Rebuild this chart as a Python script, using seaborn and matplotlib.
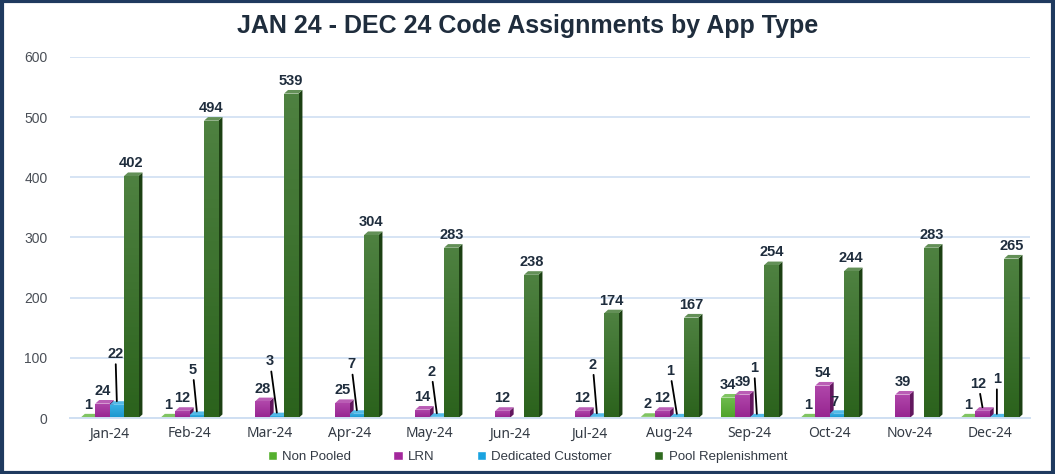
import seaborn as sns
import matplotlib.pyplot as plt
import matplotlib.colors as mcolors
from matplotlib.patches import Polygon, Rectangle
import pandas as pd
import numpy as np

# data (None = no bar / no label)
months = ["Jan-24", "Feb-24", "Mar-24", "Apr-24", "May-24", "Jun-24",
          "Jul-24", "Aug-24", "Sep-24", "Oct-24", "Nov-24", "Dec-24"]
non_pooled = [1, 1, None, None, None, None, None, 2, 34, 1, None, 1]
lrn = [24, 12, 28, 25, 14, 12, 12, 12, 39, 54, 39, 12]
dedicated = [22, 5, 3, 7, 2, None, 2, 1, 1, 7, None, 1]
pool_repl = [402, 494, 539, 304, 283, 238, 174, 167, 254, 244, 283, 265]

series = ["Non Pooled", "LRN", "Dedicated Customer", "Pool Replenishment"]
values = [non_pooled, lrn, dedicated, pool_repl]
colors = ["#55b02e", "#a3279c", "#1aa3e0", "#2f6b1f"]

# label offsets in points (dx, dy) and whether a leader line is drawn
label_offsets = {
    ("Dedicated Customer", 0): (-1, 29, True),
    ("Dedicated Customer", 1): (-3, 25, True),
    ("Dedicated Customer", 2): (-5, 32, True),
    ("Dedicated Customer", 3): (-4, 28, True),
    ("Dedicated Customer", 4): (-4, 25, True),
    ("Dedicated Customer", 6): (-3, 30, True),
    ("Dedicated Customer", 7): (-5, 26, True),
    ("Dedicated Customer", 8): (-2, 28, True),
    ("Dedicated Customer", 9): (-2, 1, False),
    ("Dedicated Customer", 11): (0, 20, True),
    ("LRN", 11): (-3, 12, True),
}

df = pd.DataFrame({"Month": months})
for name, vals in zip(series, values):
    df[name] = vals
long = df.melt(id_vars="Month", var_name="Series", value_name="Count")
long["Plot"] = long["Count"].fillna(0)

sns.set_style("white")
plt.rcParams["font.family"] = ["Liberation Sans", "DejaVu Sans"]

fig = plt.figure(figsize=(10.55, 4.74), dpi=100)
ax = fig.add_axes([0.066, 0.118, 0.91, 0.762])

sns.barplot(data=long, x="Month", y="Plot", hue="Series", order=months,
            hue_order=series, palette=colors, width=0.72, saturation=1,
            edgecolor="none", legend=False, ax=ax)

ax.set_ylim(0, 600)
ax.set_xlim(-0.45, 11.35)


def shade(c, f):
    r, g, b = mcolors.to_rgb(c)
    return (r * f, g * f, b * f)


def lighten(c, f):
    r, g, b = mcolors.to_rgb(c)
    return (r + (1 - r) * f, g + (1 - g) * f, b + (1 - b) * f)


# pseudo-3D faces and gradient on each bar
dx, dy = 0.05, 6
for cont, col, name, vals in zip(ax.containers, colors, series, values):
    for j, p in enumerate(cont.patches):
        if vals[j] is None:
            p.set_visible(False)
            continue
        x0, w, h = p.get_x(), p.get_width(), p.get_height()
        side = Polygon([(x0 + w, 0), (x0 + w + dx, dy), (x0 + w + dx, h + dy), (x0 + w, h)],
                       closed=True, facecolor=shade(col, 0.6), edgecolor="none", zorder=2)
        top = Polygon([(x0, h), (x0 + dx, h + dy), (x0 + w + dx, h + dy), (x0 + w, h)],
                      closed=True, facecolor=lighten(col, 0.25), edgecolor="none", zorder=2)
        ax.add_patch(side)
        ax.add_patch(top)
        grad = np.linspace(0, 1, 64).reshape(-1, 1)
        cmap = mcolors.LinearSegmentedColormap.from_list("g", [shade(col, 0.92), lighten(col, 0.15)])
        im = ax.imshow(grad, cmap=cmap, aspect="auto", origin="lower",
                       extent=(x0, x0 + w, 0, h), zorder=2)
        im.set_clip_path(p)

# value labels
for cont, name, vals in zip(ax.containers, series, values):
    for j, p in enumerate(cont.patches):
        v = vals[j]
        if v is None:
            continue
        xc = p.get_x() + p.get_width() / 2
        h = p.get_height() + dy
        ox, oy, line = label_offsets.get((name, j), (0, 1.5, False))
        ax.annotate(str(v), xy=(xc, h), xytext=(ox, oy), textcoords="offset points",
                    ha="center", va="bottom", fontsize=10.5, fontweight="bold",
                    color="#1f2d3d", zorder=5,
                    arrowprops=dict(arrowstyle="-", color="black", lw=1.3,
                                    shrinkA=0, shrinkB=0) if line else None)

# axes styling
ax.set_xlabel("")
ax.set_ylabel("")
ax.set_yticks(range(0, 601, 100))
ax.yaxis.grid(True, color="#cfdff2", linewidth=1.2)
ax.set_axisbelow(True)
for s in ["top", "right", "left"]:
    ax.spines[s].set_visible(False)
ax.spines["bottom"].set_color("#cfdff2")
ax.spines["bottom"].set_linewidth(1.4)
ax.tick_params(axis="y", length=0, labelsize=10, labelcolor="#4a4f57", pad=16)
ax.tick_params(axis="x", which="major", length=0, labelsize=10, labelcolor="#333a44", pad=6)
ax.set_xticks(np.arange(-0.5, 12, 1), minor=True)
ax.tick_params(axis="x", which="minor", length=5, color="#cfdff2", width=1.2)
for lbl in ax.get_xticklabels():
    lbl.set_family(["Noto Sans", "DejaVu Sans"])

# title
fig.text(0.5, 0.945, "JAN 24 - DEC 24 Code Assignments by App Type", ha="center",
         va="center", fontsize=18, fontweight="bold", color="#1f2d3d")

# legend
handles = [Rectangle((0, 0), 1, 1, facecolor=c) for c in colors]
fig.legend(handles, series, loc="center", bbox_to_anchor=(0.5, 0.036), ncol=4,
           frameon=False, fontsize=9.5, handlelength=0.7, handleheight=0.7,
           columnspacing=3.2, handletextpad=0.4, labelcolor="#333a44")

# figure border
fig.patches.append(Rectangle((0.002, 0.003), 0.996, 0.994, transform=fig.transFigure,
                             fill=False, edgecolor="#1f3a5f", linewidth=3))

fig.savefig("out.png", dpi=100)
